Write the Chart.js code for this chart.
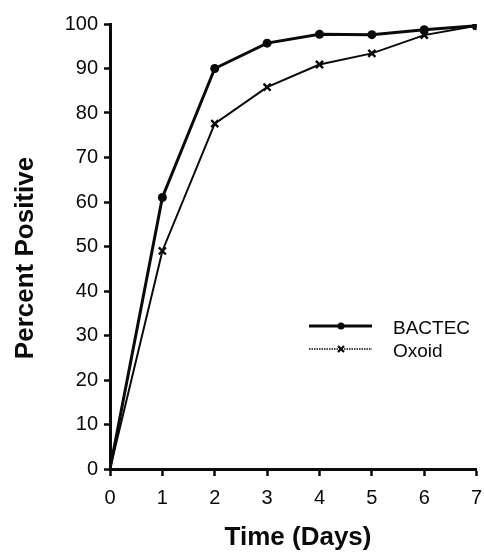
<!DOCTYPE html>
<html>
<head>
<meta charset="utf-8">
<script src="https://cdn.jsdelivr.net/npm/chart.js@4/dist/chart.umd.min.js"></script>
<style>
  html, body { margin: 0; padding: 0; background: #fff; }
  #wrap { width: 484px; height: 554px; }
</style>
</head>
<body>
<div id="wrap"><canvas id="chart" width="484" height="554"></canvas></div>
<script>
// データ
const days    = [0, 1, 2, 3, 4, 5, 6, 7];
const bactec  = [0, 61, 90, 95.7, 97.7, 97.6, 98.7, 99.6];
const oxoid   = [0, 49, 77.6, 85.8, 90.9, 93.4, 97.5, 99.6];
const yTicks  = [0, 10, 20, 30, 40, 50, 60, 70, 80, 90, 100];

const FONT = "'Liberation Sans', Arial, Helvetica, sans-serif";
const INK  = "#0a0a0a";

// 軸タイトルと凡例を自前で描く
const overlay = {
  id: "overlay",
  afterDraw(chart) {
    const c = chart.ctx;
    c.save();
    c.fillStyle = INK;
    c.font = `bold 26px ${FONT}`;
    c.textAlign = "center";
    c.textBaseline = "middle";
    c.fillText("Time (Days)", 298, 538);
    c.translate(26, 258);
    c.rotate(-Math.PI / 2);
    c.fillText("Percent Positive", 0, 0);
    c.restore();

    // 凡例
    c.save();
    c.strokeStyle = INK;
    c.fillStyle = INK;
    c.lineWidth = 3;
    c.beginPath(); c.moveTo(309, 326); c.lineTo(372, 326); c.stroke();
    c.beginPath(); c.arc(341, 326, 3.5, 0, Math.PI * 2); c.fill();
    c.lineWidth = 1.4;
    c.setLineDash([1.5, 1]);
    c.beginPath(); c.moveTo(309, 349); c.lineTo(372, 349); c.stroke();
    c.setLineDash([]);
    c.lineWidth = 2.2;
    c.beginPath();
    c.moveTo(338, 346); c.lineTo(344, 352);
    c.moveTo(344, 346); c.lineTo(338, 352);
    c.stroke();
    c.font = `19px ${FONT}`;
    c.textAlign = "left";
    c.textBaseline = "middle";
    c.fillText("BACTEC", 393, 329);
    c.fillText("Oxoid", 393, 352);
    c.restore();
  }
};

new Chart(document.getElementById("chart"), {
  type: "line",
  data: {
    datasets: [
      {
        label: "BACTEC",
        data: days.map((d, i) => ({ x: d, y: bactec[i] })),
        borderColor: INK,
        backgroundColor: INK,
        borderWidth: 3,
        pointStyle: "circle",
        pointRadius: days.map(d => d === 0 ? 0 : 4.5),
        pointBorderWidth: 0,
        tension: 0
      },
      {
        label: "Oxoid",
        data: days.map((d, i) => ({ x: d, y: oxoid[i] })),
        borderColor: INK,
        backgroundColor: INK,
        borderWidth: 2,
        pointStyle: "crossRot",
        pointRadius: days.map(d => d === 0 ? 0 : 5),
        pointBorderWidth: 2.4,
        tension: 0
      }
    ]
  },
  options: {
    responsive: false,
    animation: false,
    layout: { padding: { top: 24, right: 5, left: 0, bottom: 0 } },
    plugins: { legend: { display: false }, tooltip: { enabled: false } },
    scales: {
      x: {
        type: "linear",
        min: 0, max: 7,
        afterBuildTicks: s => { s.ticks = days.map(v => ({ value: v })); },
        afterFit: s => { s.height = 85; s.paddingLeft = 0; s.paddingRight = 0; },
        grid: { display: true, drawOnChartArea: false, drawTicks: true, tickLength: 7, tickWidth: 2.5, tickColor: INK },
        border: { display: true, color: INK, width: 3 },
        ticks: { color: INK, font: { family: FONT, size: 20 }, padding: 10, maxRotation: 0 }
      },
      y: {
        min: 0, max: 100,
        afterBuildTicks: s => { s.ticks = yTicks.map(v => ({ value: v })); },
        afterFit: s => { s.width = 110; s.paddingTop = 0; s.paddingBottom = 0; },
        grid: { display: true, drawOnChartArea: false, drawTicks: true, tickLength: 6, tickWidth: 2.5, tickColor: INK },
        border: { display: true, color: INK, width: 3 },
        ticks: { color: INK, font: { family: FONT, size: 20 }, padding: 6 }
      }
    }
  },
  plugins: [overlay]
});
</script>
</body>
</html>
